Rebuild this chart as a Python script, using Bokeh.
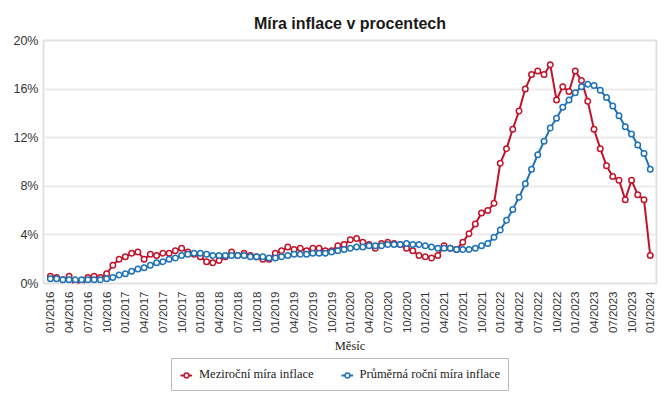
import numpy as np
from bokeh.plotting import figure
from bokeh.layouts import column
from bokeh.models import Range1d, FixedTicker, Legend, LegendItem, ColumnDataSource
from bokeh.embed import file_html
from bokeh.resources import INLINE

# ---- data ----
months = [f"{m:02d}/{y}" for y in range(2016, 2024) for m in range(1, 13)] + ["01/2024"]

yoy = [
    0.6, 0.5, 0.3, 0.6, 0.1, 0.1, 0.5, 0.6, 0.5, 0.8, 1.5, 2.0,   # 2016
    2.2, 2.5, 2.6, 2.0, 2.4, 2.3, 2.5, 2.5, 2.7, 2.9, 2.6, 2.4,   # 2017
    2.2, 1.8, 1.7, 1.9, 2.2, 2.6, 2.3, 2.5, 2.3, 2.2, 2.0, 2.0,   # 2018
    2.5, 2.7, 3.0, 2.8, 2.9, 2.7, 2.9, 2.9, 2.7, 2.7, 3.1, 3.2,   # 2019
    3.6, 3.7, 3.4, 3.2, 2.9, 3.3, 3.4, 3.3, 3.2, 2.9, 2.7, 2.3,   # 2020
    2.2, 2.1, 2.3, 3.1, 2.9, 2.8, 3.4, 4.1, 4.9, 5.8, 6.0, 6.6,   # 2021
    9.9, 11.1, 12.7, 14.2, 16.0, 17.2, 17.5, 17.2, 18.0, 15.1, 16.2, 15.8,  # 2022
    17.5, 16.7, 15.0, 12.7, 11.1, 9.7, 8.8, 8.5, 6.9, 8.5, 7.3, 6.9,        # 2023
    2.3,                                                           # 2024
]

avg = [
    0.4, 0.4, 0.3, 0.3, 0.3, 0.3, 0.3, 0.3, 0.3, 0.4, 0.5, 0.7,   # 2016
    0.8, 1.0, 1.2, 1.3, 1.5, 1.7, 1.8, 2.0, 2.1, 2.3, 2.4, 2.5,   # 2017
    2.5, 2.4, 2.3, 2.3, 2.3, 2.3, 2.3, 2.3, 2.2, 2.2, 2.2, 2.1,   # 2018
    2.1, 2.2, 2.3, 2.4, 2.4, 2.4, 2.5, 2.5, 2.5, 2.6, 2.7, 2.8,   # 2019
    2.9, 3.0, 3.0, 3.1, 3.1, 3.1, 3.2, 3.2, 3.2, 3.3, 3.2, 3.2,   # 2020
    3.1, 3.0, 2.9, 2.9, 2.9, 2.8, 2.8, 2.8, 2.9, 3.1, 3.3, 3.8,   # 2021
    4.4, 5.2, 6.1, 7.1, 8.2, 9.4, 10.6, 11.7, 12.8, 13.6, 14.5, 15.1,  # 2022
    15.7, 16.2, 16.4, 16.3, 15.9, 15.3, 14.6, 13.8, 12.9, 12.3, 11.4, 10.7,  # 2023
    9.4,                                                           # 2024
]

y_ticks = [0, 4, 8, 12, 16, 20]
y_tick_labels = [f"{t}%" for t in y_ticks]

series_names = ["Meziroční míra inflace", "Průměrná roční míra inflace"]
title_text = "Míra inflace v procentech"
x_title = "Měsíc"

RED = "#c3132a"
BLUE = "#1d72b8"

x = list(range(len(months)))
src = ColumnDataSource(dict(x=x, yoy=yoy, avg=avg))

p = figure(width=668, height=356, output_backend="svg", toolbar_location=None,
           x_range=Range1d(-1.1, 97.0), y_range=Range1d(0, 20),
           min_border_left=43, min_border_right=12, min_border_top=40, min_border_bottom=73)

p.title.text = title_text
p.title.align = "center"
p.title.text_font = "Liberation Sans"
p.title.text_font_size = "16px"
p.title.text_font_style = "bold"
p.title.text_color = "#1a1a1a"
p.title.standoff = 18

p.outline_line_color = "#e2e2e2"
p.outline_line_width = 2

# y axis
p.yaxis.ticker = FixedTicker(ticks=y_ticks)
p.yaxis.major_label_overrides = {t: l for t, l in zip(y_ticks, y_tick_labels)}
p.yaxis.axis_line_color = None
p.yaxis.major_tick_line_color = None
p.yaxis.minor_tick_line_color = None
p.yaxis.major_tick_out = 0
p.yaxis.major_label_standoff = 5
p.yaxis.major_label_text_font = "Liberation Sans"
p.yaxis.major_label_text_font_size = "12.5px"
p.yaxis.major_label_text_color = "#333333"

# x axis
xt = list(range(0, len(months), 3))
p.xaxis.ticker = FixedTicker(ticks=xt)
p.xaxis.major_label_overrides = {i: months[i] for i in xt}
p.xaxis.major_label_orientation = np.pi / 2
p.xaxis.axis_line_color = None
p.xaxis.major_tick_line_color = None
p.xaxis.minor_tick_line_color = None
p.xaxis.major_tick_out = 0
p.xaxis.major_label_standoff = 8
p.xaxis.major_label_text_font = "Liberation Sans"
p.xaxis.major_label_text_font_size = "11.5px"
p.xaxis.major_label_text_color = "#333333"
p.xaxis.axis_label = x_title
p.xaxis.axis_label_text_font = "Liberation Serif"
p.xaxis.axis_label_text_font_style = "normal"
p.xaxis.axis_label_text_font_size = "12.5px"
p.xaxis.axis_label_text_color = "#222222"
p.xaxis.axis_label_standoff = 3

p.xgrid.grid_line_color = None
p.ygrid.grid_line_color = "#ebebeb"
p.ygrid.grid_line_width = 2

def draw_series(fig):
    l1 = fig.line("x", "yoy", source=src, line_color=RED, line_width=2)
    s1 = fig.scatter("x", "yoy", source=src, size=5.5, marker="circle",
                     fill_color="white", line_color=RED, line_width=1.5)
    l2 = fig.line("x", "avg", source=src, line_color=BLUE, line_width=2)
    s2 = fig.scatter("x", "avg", source=src, size=5.5, marker="circle",
                     fill_color="white", line_color=BLUE, line_width=1.5)
    return l1, s1, l2, s2

draw_series(p)

# legend strip below the chart (series drawn out of view, only the legend shows)
p2 = figure(width=668, height=45, output_backend="svg", toolbar_location=None,
            x_range=Range1d(-1.1, 97.0), y_range=Range1d(100, 101),
            x_axis_location=None, y_axis_location=None,
            min_border_left=0, min_border_right=0, min_border_top=0, min_border_bottom=0)
p2.outline_line_color = None
p2.xgrid.grid_line_color = None
p2.ygrid.grid_line_color = None
l1, s1, l2, s2 = draw_series(p2)

legend = Legend(items=[LegendItem(label=series_names[0], renderers=[l1, s1]),
                       LegendItem(label=series_names[1], renderers=[l2, s2])],
                orientation="horizontal", location=(128, 10),
                label_text_font="Liberation Serif", label_text_font_size="12.5px",
                label_text_color="#222222",
                glyph_width=12, glyph_height=14, label_standoff=7, spacing=27,
                padding=8, margin=0,
                border_line_color="#7a7a7a", border_line_width=1,
                background_fill_color="white")
p2.add_layout(legend, "center")

layout = column(p, p2, spacing=0)
open("out.html", "w").write(file_html(layout, INLINE))
